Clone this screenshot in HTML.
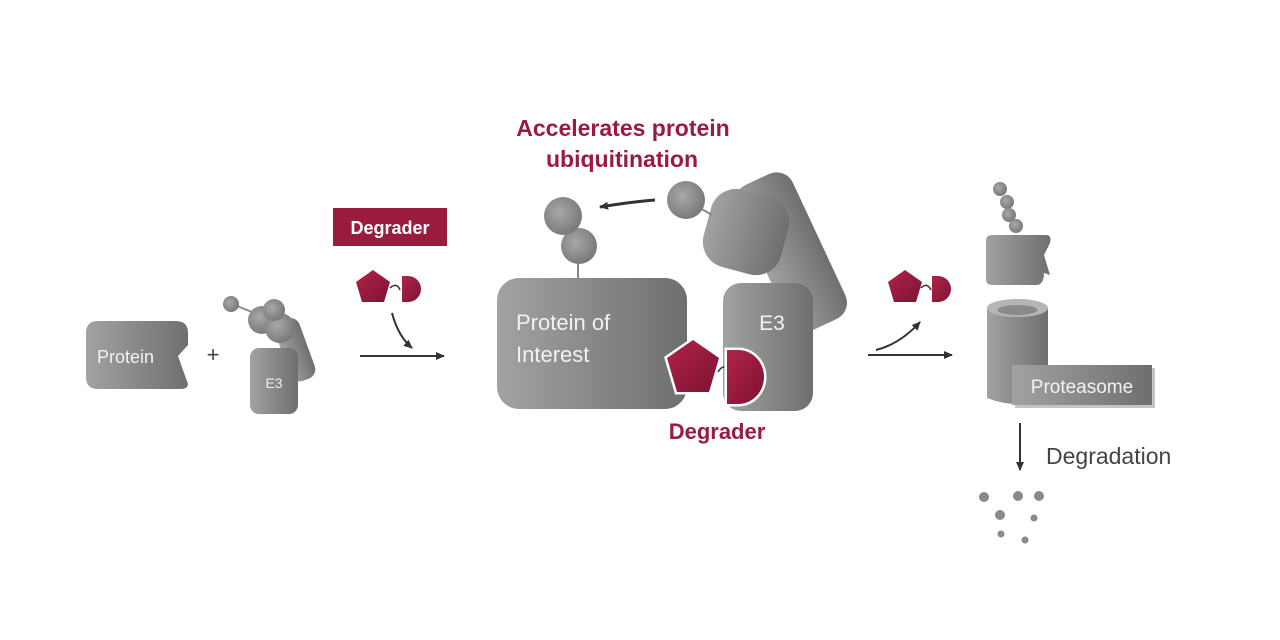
<!DOCTYPE html>
<html><head><meta charset="utf-8"><style>
html,body{margin:0;padding:0;background:#fff;}
svg{display:block;}
text{font-family:"Liberation Sans",sans-serif;}
</style></head><body>
<svg width="1280" height="640" viewBox="0 0 1280 640" xmlns="http://www.w3.org/2000/svg">
<defs>
<linearGradient id="g" x1="0" y1="0" x2="1" y2="0"><stop offset="0" stop-color="#a2a2a2"/><stop offset="1" stop-color="#6f6f6f"/></linearGradient>
<linearGradient id="r" x1="0" y1="0" x2="1" y2="1"><stop offset="0" stop-color="#b0244a"/><stop offset="1" stop-color="#7e1231"/></linearGradient>
<radialGradient id="b" cx="0.4" cy="0.4" r="0.6"><stop offset="0" stop-color="#a8a8a8"/><stop offset="1" stop-color="#7a7a7a"/></radialGradient>
<marker id="ah" markerWidth="10" markerHeight="10" refX="8" refY="5" orient="auto" markerUnits="userSpaceOnUse"><path d="M0,1 L9,5 L0,9 Z" fill="#333"/></marker>
</defs>

<!-- Left protein -->
<path d="M98,321 H176 Q188,321 188,333 V345 L178,356 L188,384 Q188,389 180,389 H98 Q86,389 86,377 V333 Q86,321 98,321 Z" fill="url(#g)"/>
<text x="97" y="363" font-size="18" fill="#f2f2f2">Protein</text>
<text x="213" y="362" font-size="22" fill="#444" text-anchor="middle">+</text>

<!-- small E3 -->
<rect x="282" y="318" width="26" height="64" rx="10" fill="url(#g)" transform="rotate(-20 294 350)"/>
<line x1="237" y1="306" x2="252" y2="312" stroke="#888" stroke-width="2"/>
<circle cx="231" cy="304" r="8" fill="url(#b)"/>
<circle cx="262" cy="320" r="14" fill="url(#b)"/>
<circle cx="280" cy="328" r="15" fill="url(#b)"/>
<circle cx="274" cy="310" r="11" fill="url(#b)"/>
<rect x="250" y="348" width="48" height="66" rx="9" fill="url(#g)"/>
<text x="274" y="388" font-size="14" fill="#eee" text-anchor="middle">E3</text>

<!-- Degrader box -->
<rect x="333" y="208" width="114" height="38" fill="#9b1b3f"/>
<text x="390" y="234" font-size="18" font-weight="bold" fill="#fff" text-anchor="middle">Degrader</text>
<polygon points="373,270 390,282 384,302 362,302 356,282" fill="url(#r)"/>
<path d="M390,288 Q397,282 400,290" stroke="#333" stroke-width="1.5" fill="none"/>
<path d="M402,276 H408 A13,13 0 0 1 408,302 H402 Z" fill="url(#r)"/>
<path d="M392,313 Q398,336 412,348" stroke="#333" stroke-width="2" fill="none" marker-end="url(#ah)"/>
<line x1="360" y1="356" x2="444" y2="356" stroke="#333" stroke-width="2" marker-end="url(#ah)"/>

<!-- Center complex -->
<text x="623" y="136" font-size="23" font-weight="bold" fill="#9b1b3f" text-anchor="middle">Accelerates protein</text>
<text x="622" y="167" font-size="23" font-weight="bold" fill="#9b1b3f" text-anchor="middle">ubiquitination</text>
<rect x="760" y="172" width="62" height="160" rx="18" fill="url(#g)" transform="rotate(-25 791 252)"/>
<rect x="706" y="192" width="80" height="80" rx="26" fill="url(#g)" transform="rotate(15 746 232)"/>
<line x1="700" y1="208" x2="712" y2="215" stroke="#888" stroke-width="2"/>
<circle cx="686" cy="200" r="19" fill="url(#b)"/>
<path d="M655,200 Q630,202 600,207" stroke="#333" stroke-width="3" fill="none" marker-end="url(#ah)"/>
<line x1="578" y1="262" x2="578" y2="280" stroke="#888" stroke-width="2"/>
<circle cx="579" cy="246" r="18" fill="url(#b)"/>
<circle cx="563" cy="216" r="19" fill="url(#b)"/>
<rect x="497" y="278" width="190" height="131" rx="22" fill="url(#g)"/>
<text x="516" y="330" font-size="22" fill="#f2f2f2">Protein of</text>
<text x="516" y="362" font-size="22" fill="#f2f2f2">Interest</text>
<rect x="723" y="283" width="90" height="128" rx="18" fill="url(#g)"/>
<text x="772" y="330" font-size="21" fill="#f2f2f2" text-anchor="middle">E3</text>
<polygon points="693,340 719,358 709,392 677,392 667,358" fill="url(#r)" stroke="#fff" stroke-width="5"/>
<polygon points="693,340 719,358 709,392 677,392 667,358" fill="url(#r)"/>
<path d="M718,372 Q724,362 730,372" stroke="#333" stroke-width="1.5" fill="none"/>
<path d="M727,350 H738 A26,27 0 0 1 738,404 H727 Z" fill="url(#r)" stroke="#fff" stroke-width="5"/>
<path d="M727,350 H738 A26,27 0 0 1 738,404 H727 Z" fill="url(#r)"/>
<text x="717" y="439" font-size="22" font-weight="bold" fill="#9b1b3f" text-anchor="middle">Degrader</text>

<!-- right arrows -->
<line x1="868" y1="355" x2="952" y2="355" stroke="#333" stroke-width="2" marker-end="url(#ah)"/>
<path d="M876,350 Q900,344 920,322" stroke="#333" stroke-width="2" fill="none" marker-end="url(#ah)"/>
<polygon points="905,270 922,282 916,302 894,302 888,282" fill="url(#r)"/>
<path d="M921,288 Q927,282 931,290" stroke="#333" stroke-width="1.5" fill="none"/>
<path d="M932,276 H938 A13,13 0 0 1 938,302 H932 Z" fill="url(#r)"/>

<!-- Right side -->
<circle cx="1000" cy="189" r="7" fill="url(#b)"/>
<circle cx="1007" cy="202" r="7" fill="url(#b)"/>
<circle cx="1009" cy="215" r="7" fill="url(#b)"/>
<circle cx="1016" cy="226" r="7" fill="url(#b)"/>
<path d="M992,235 H1046 Q1052,235 1050,243 L1044,255 L1050,275 L1044,273 Q1044,285 1036,285 H992 Q986,285 986,279 V241 Q986,235 992,235 Z" fill="url(#g)"/>
<path d="M987,308 V398 Q1017,410 1048,398 V308 Z" fill="url(#g)"/>
<ellipse cx="1017.5" cy="308" rx="30.5" ry="9" fill="#b5b5b5"/>
<ellipse cx="1017.5" cy="310" rx="20" ry="5" fill="#8a8a8a"/>
<rect x="1015" y="368" width="140" height="40" fill="#555" opacity="0.35"/>
<rect x="1012" y="365" width="140" height="40" fill="url(#g)"/>
<text x="1082" y="393" font-size="19" fill="#f2f2f2" text-anchor="middle">Proteasome</text>
<line x1="1020" y1="423" x2="1020" y2="470" stroke="#333" stroke-width="2" marker-end="url(#ah)"/>
<text x="1046" y="464" font-size="23" fill="#444">Degradation</text>
<g fill="#8a8a8a">
<circle cx="984" cy="497" r="5"/><circle cx="1018" cy="496" r="5"/><circle cx="1039" cy="496" r="5"/>
<circle cx="1000" cy="515" r="5"/><circle cx="1034" cy="518" r="3.5"/>
<circle cx="1001" cy="534" r="3.5"/><circle cx="1025" cy="540" r="3.5"/>
</g>
</svg>
</body></html>
